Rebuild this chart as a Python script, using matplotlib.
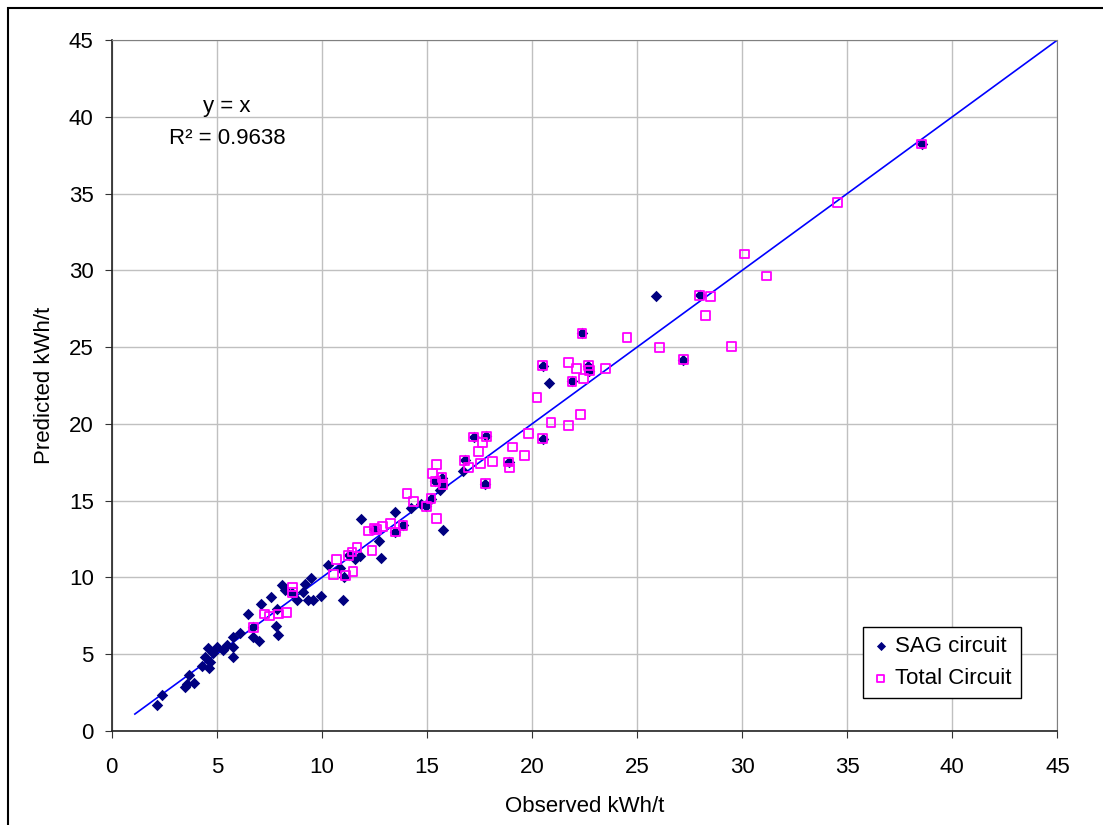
import matplotlib
matplotlib.use("Agg")
import matplotlib.pyplot as plt
from matplotlib.patches import Rectangle

plt.rcParams['font.family'] = ['Liberation Sans', 'DejaVu Sans']

# points that belong to both series (diamond inside a square)
both_x = [6.74, 8.6, 11.27, 12.49, 13.49, 13.86, 14.97, 15.19, 15.4, 15.71, 15.76,
          16.79, 17.78, 18.89, 17.22, 17.82, 20.5, 20.5, 21.9, 22.67, 22.73, 22.38,
          27.19, 27.97, 38.54]
both_y = [6.74, 9.0, 11.44, 13.18, 12.96, 13.39, 14.63, 15.13, 16.25, 16.49, 16.04,
          17.62, 16.1, 17.51, 19.14, 19.2, 23.8, 19.03, 22.76, 23.8, 23.47, 25.9,
          24.17, 28.37, 38.23]

# SAG circuit only
sag_x = [2.14, 2.41, 3.49, 3.6, 3.68, 3.92, 4.3, 4.44, 4.63, 4.68, 4.57, 4.8, 5.03,
         5.31, 5.48, 5.76, 5.79, 5.76, 6.11, 6.48, 6.7, 7.03, 7.11, 7.6, 7.81, 7.89,
         7.85, 8.1, 8.25, 8.81, 9.1, 9.2, 9.49, 9.36, 9.6, 9.97, 10.31, 11.0, 10.87,
         11.03, 11.59, 11.82, 11.86, 12.82, 12.74, 13.46, 14.24, 14.71, 15.76, 15.63,
         16.71, 20.79, 25.89]
sag_y = [1.67, 2.34, 2.84, 3.05, 3.66, 3.14, 4.23, 4.83, 4.12, 4.5, 5.37, 5.1, 5.44,
         5.27, 5.59, 5.48, 4.83, 6.13, 6.39, 7.59, 6.13, 5.87, 8.3, 8.73, 6.83, 6.22,
         7.91, 9.49, 9.17, 8.52, 9.06, 9.6, 9.99, 8.52, 8.52, 8.8, 10.79, 8.52, 10.62,
         10.03, 11.23, 11.38, 13.78, 11.29, 12.35, 14.26, 14.52, 14.8, 13.11, 15.67,
         16.92, 22.65, 28.33]

# Total circuit only
tot_x = [7.27, 7.5, 7.93, 8.33, 8.6, 10.55, 10.71, 11.11, 11.48, 11.43, 11.67, 12.38,
         12.22, 12.6, 12.9, 13.28, 14.05, 14.36, 15.44, 15.27, 15.44, 16.98, 17.54,
         18.1, 18.93, 19.08, 17.46, 17.65, 19.84, 19.63, 20.24, 20.9, 21.74, 22.3,
         21.74, 22.1, 22.43, 23.49, 24.52, 26.08, 29.49, 28.49, 28.24, 30.12, 31.16,
         34.52]
tot_y = [7.61, 7.48, 7.61, 7.72, 9.38, 10.19, 11.16, 10.14, 10.4, 11.66, 11.94, 11.77,
         13.02, 13.1, 13.33, 13.5, 15.45, 14.95, 13.83, 16.76, 17.36, 17.18, 17.44,
         17.55, 17.12, 18.49, 18.21, 18.81, 19.36, 17.95, 21.74, 20.11, 19.9, 20.59,
         24.01, 23.62, 22.97, 23.62, 25.64, 24.95, 25.05, 28.28, 27.05, 31.06, 29.63,
         34.42]

fit_x = [1.1, 45]
ticks = list(range(0, 50, 5))

fig = plt.figure(figsize=(11.03, 8.25), dpi=100)
ax = fig.add_axes([0.1013, 0.114, 0.8574, 0.8375])

sag_all_x = sag_x + both_x
sag_all_y = sag_y + both_y
tot_all_x = tot_x + both_x
tot_all_y = tot_y + both_y

ax.scatter(sag_all_x, sag_all_y, marker="D", s=34, color="#000080", lw=0,
           label="SAG circuit", zorder=3)
ax.scatter(tot_all_x, tot_all_y, marker="s", s=40, facecolor="none",
           edgecolor="#FF00FF", lw=1.3, label="Total Circuit", zorder=4)
ax.plot(fit_x, fit_x, color="#0000FF", lw=1.2, zorder=2)

ax.set_xlim(0, 45)
ax.set_ylim(0, 45)
ax.set_xticks(ticks)
ax.set_yticks(ticks)
ax.grid(True, color="#c0c0c0", lw=1)
ax.set_axisbelow(True)
ax.tick_params(axis="both", direction="out", length=5, labelsize=16, color="#333333")
ax.tick_params(axis="x", pad=14)
ax.tick_params(axis="y", pad=8)
for side in ["top", "right"]:
    ax.spines[side].set_color("#808080")
for side in ["left", "bottom"]:
    ax.spines[side].set_color("#222222")
    ax.spines[side].set_linewidth(1.2)

ax.set_xlabel("Observed kWh/t", fontsize=16, labelpad=13)
ax.set_ylabel("Predicted kWh/t", fontsize=16, labelpad=10)

ax.text(5.49, 40.7, "y = x", fontsize=16, ha="center", va="center")
ax.text(5.49, 38.56, "R² = 0.9638", fontsize=16, ha="center", va="center")

leg = ax.legend(loc="lower left", bbox_to_anchor=(0.7945, 0.0478), borderaxespad=0,
                fontsize=16, fancybox=False, framealpha=1, edgecolor="black",
                handletextpad=0.25, borderpad=0.4, labelspacing=0.5, handlelength=0.8,
                markerscale=0.8)
leg.get_frame().set_linewidth(1)

fig.add_artist(Rectangle((0.0075, -0.1), 1.2, 1.0899, transform=fig.transFigure,
                         fill=False, ec="black", lw=1.5))

fig.savefig("out.png", dpi=100)
